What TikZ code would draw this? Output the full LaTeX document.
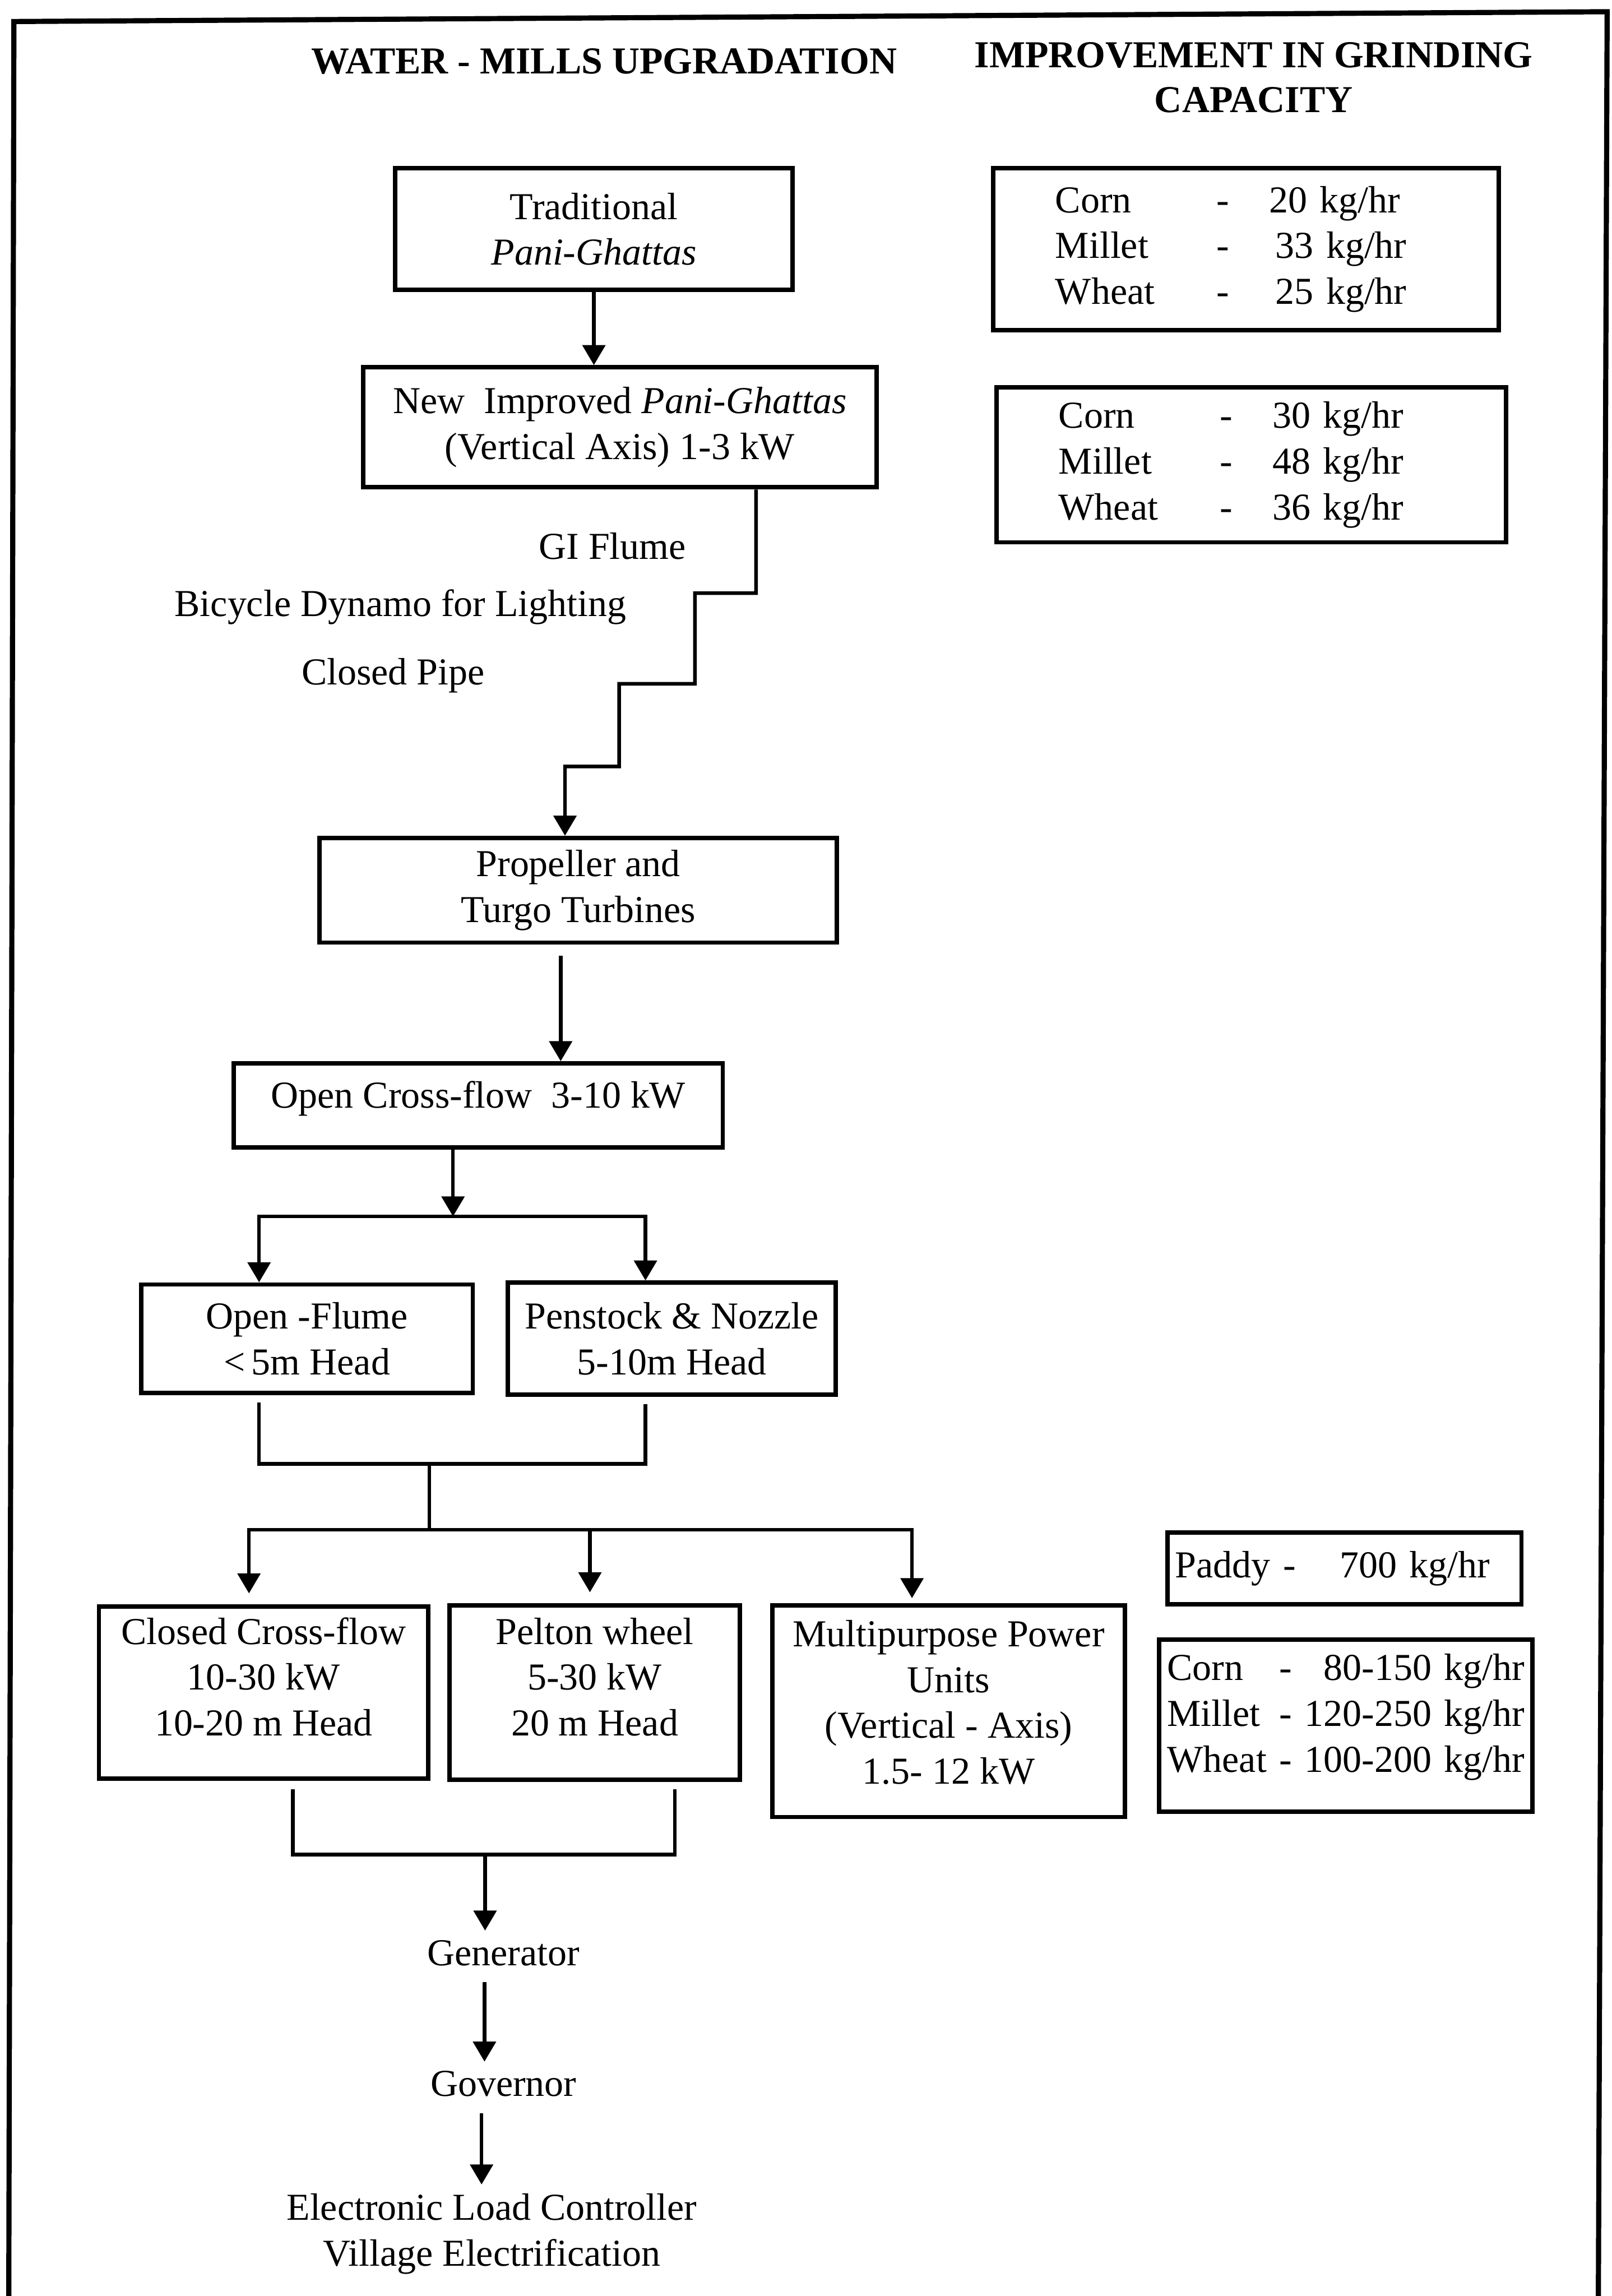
\documentclass[tikz,border=0pt]{standalone}
\usepackage{fontspec}
\setmainfont{Liberation Serif}
\usepackage{tikz}
\usetikzlibrary{arrows.meta,positioning}
\newcommand{\flowfont}{\fontsize{14.8}{17.8}\selectfont}
\tikzstyle{arrow} = [line width=1.4pt,-{Triangle[width=8.8pt,length=7.8pt]}]
\tikzstyle{link} = [line width=1.4pt]
\tikzstyle{frame} = [line width=2pt]
\tikzstyle{stagebox} = [rectangle, draw, line width=1.7pt, align=center, inner sep=0pt]
\tikzstyle{ratebox} = [rectangle, draw, line width=1.7pt, align=left, inner ysep=0pt]
\tikzstyle{heading} = [font=\fontsize{14.8}{17.4}\selectfont\bfseries, align=center]
\tikzstyle{tagnode} = [text height=10pt, text depth=3pt]
\tikzstyle{sidenote} = [tagnode, anchor=west, inner sep=0pt]

\begin{document}
\begin{tikzpicture}[font=\flowfont]
\useasboundingbox (0,0) rectangle (22.02,-31.37);
% Frame and titles
\draw[frame] (0.12,-31.37) -- (0.19,-0.294) -- (21.96,-0.16) -- (21.84,-31.37);
\node[heading] (title) at (8.256,-0.84) {WATER - MILLS UPGRADATION};
\node[heading] (gctitle) at (17.13,-1.062) {IMPROVEMENT IN GRINDING\\CAPACITY};

% Upgradation flow
\node[stagebox, minimum width=5.43cm, minimum height=1.66cm] (trad) at (8.115,-3.13) {Traditional\\\textit{Pani-Ghattas}};
\node[stagebox, minimum width=7.02cm, minimum height=1.64cm] (newimp) at (8.47,-5.838) {New\ \ Improved \textit{Pani-Ghattas}\\(Vertical Axis) 1-3 kW};
\node[sidenote] (giflume) at (7.356,-7.52) {GI Flume};
\node[sidenote] (dynamo) at (2.38,-8.30) {Bicycle Dynamo for Lighting};
\node[sidenote] (pipe) at (4.114,-9.234) {Closed Pipe};
\node[stagebox, minimum width=7.07cm, minimum height=1.43cm] (prop) at (7.901,-12.163) {Propeller and\\Turgo Turbines};
\node[stagebox, minimum width=6.68cm, minimum height=1.15cm, text depth=0.3cm] (ocf) at (6.536,-15.104) {Open Cross-flow\ \ 3-10 kW};
\node[stagebox, minimum width=4.53cm, minimum height=1.48cm] (oflume) at (4.195,-18.29) {Open -Flume\\<\,5m Head};
\node[stagebox, minimum width=4.48cm, minimum height=1.53cm, right=0.42cm of oflume] (penstock) {Penstock \& Nozzle\\5-10m Head};
\node[stagebox, minimum width=4.5cm, minimum height=2.35cm] (ccf) at (3.602,-23.125) {\begin{tabular}{@{}c@{}}Closed Cross-flow\\10-30 kW\\10-20 m Head\\[0.32cm]\end{tabular}};
\node[stagebox, minimum width=3.97cm, minimum height=2.38cm, right=0.23cm of ccf] (pelton) {\begin{tabular}{@{}c@{}}Pelton wheel\\5-30 kW\\20 m Head\\[0.32cm]\end{tabular}};
\node[stagebox, minimum width=4.82cm, minimum height=2.89cm, right=0.38cm of pelton.north east, anchor=north west] (mpu) {\begin{tabular}{@{}c@{}}Multipurpose Power\\Units\\(Vertical - Axis)\\1.5- 12 kW\\[0.14cm]\end{tabular}};
\node[tagnode] (gen) at (6.88,-26.73) {Generator};
\node[tagnode] (gov) at (6.88,-28.52) {Governor};
\node[align=center] (elc) at (6.72,-30.52) {Electronic Load Controller\\Village Electrification};

% Grinding capacity
\node[ratebox, text width=5.21cm, inner xsep=0.85cm, minimum height=2.21cm] (rateold) at (17.026,-3.405) {\begin{tabular}{@{}p{2.2cm}@{}p{0.72cm}@{}l@{}}Corn & - & 20 kg/hr\\ Millet & - & \,33 kg/hr\\ Wheat & - & \,25 kg/hr\end{tabular}};
\node[ratebox, text width=5.26cm, inner xsep=0.85cm, minimum height=2.12cm, below=0.72cm of rateold, xshift=0.07cm] (ratenew) {\begin{tabular}{@{}p{2.2cm}@{}p{0.72cm}@{}l@{}}Corn & - & 30 kg/hr\\ Millet & - & 48 kg/hr\\ Wheat & - & 36 kg/hr\end{tabular}};
\node[ratebox, text width=4.62cm, inner xsep=0.11cm, minimum height=0.98cm] (paddy) at (18.37,-21.43) {Paddy -\hspace{0.6cm}700 kg/hr};
\node[ratebox, text width=4.88cm, inner xsep=0.11cm, minimum height=2.35cm, below=0.42cm of paddy, xshift=0.02cm] (ratelarge) {\begin{tabular}{@{}l@{\ }c@{\ }r@{\ }l@{}}Corn & - & 80-150 & kg/hr\\ Millet & - & 120-250 & kg/hr\\ Wheat & - & 100-200 & kg/hr\\[0.23cm]\end{tabular}};

% Connectors
\coordinate (split) at (6.19,-16.62);
\coordinate (join) at (5.866,-20.0);
\coordinate (split2) at (5.866,-20.9);
\coordinate (join2) at (6.628,-25.34);
\draw[arrow] (trad) -- (trad |- newimp.north);
\draw[arrow] ([xshift=1.86cm]newimp.south) |- ++(-0.834,-1.416) |- ++(-1.036,-1.238) |- ++(-0.74,-1.13) -- ([xshift=-0.181cm]prop.north);
\draw[arrow, shorten <=0.15cm] ([xshift=-0.24cm]prop.south) -- ([xshift=-0.24cm]prop.south |- ocf.north);
\draw[arrow] (ocf.south -| split) -- (split);
\draw[arrow] (split) -| ([xshift=-0.655cm]oflume.north);
\draw[arrow] (split) -| ([xshift=-0.36cm]penstock.north);
\draw[link, shorten <=0.1cm, shorten >=0.1cm] ([xshift=-0.655cm]oflume.south) |- (join) -| ([xshift=-0.36cm]penstock.south);
\draw[link] (join) -- (split2);
\draw[arrow, shorten >=0.15cm] (split2) -| ([xshift=-0.2cm]ccf.north);
\draw[arrow, shorten >=0.15cm] (split2) -| ([xshift=-0.066cm]pelton.north);
\draw[arrow, shorten >=0.07cm] (split2) -| ([xshift=-0.5cm]mpu.north);
\draw[link, shorten <=0.12cm, shorten >=0.1cm] ([xshift=0.398cm]ccf.south) |- (join2) -| ([xshift=1.094cm]pelton.south);
\draw[arrow] (join2) -- (join2 |- gen.north);
\draw[arrow] ([xshift=-0.26cm]gen.south) -- ([xshift=-0.26cm]gov.north);
\draw[arrow] ([xshift=-0.3cm]gov.south) -- ([xshift=-0.14cm]elc.north);
\end{tikzpicture}
\end{document}
